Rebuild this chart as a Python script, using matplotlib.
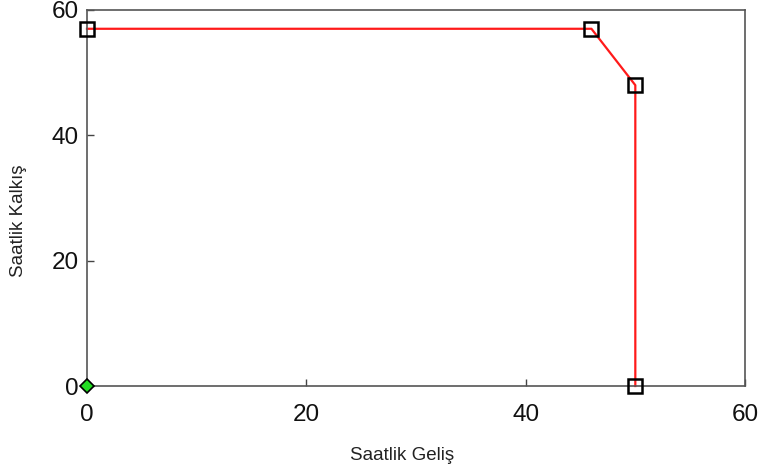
import matplotlib.pyplot as plt

# hourly arrivals vs departures
gelis = [0, 46, 50, 50]
kalkis = [57, 57, 48, 0]
origin_x = [0]
origin_y = [0]
ticks = [0, 20, 40, 60]

plt.rcParams['font.family'] = ['Liberation Sans', 'DejaVu Sans']

fig = plt.figure(figsize=(7.67, 4.73), dpi=100)
ax = fig.add_axes([0.1134, 0.1839, 0.8579, 0.7950])

ax.plot(gelis, kalkis, color='#ff1a1a', linewidth=1.6, zorder=2, clip_on=False)
ax.plot(gelis, kalkis, linestyle='none', marker='s', markersize=10,
        markerfacecolor='none', markeredgecolor='black', markeredgewidth=1.8,
        zorder=3, clip_on=False)
ax.plot(origin_x, origin_y, linestyle='none', marker='D', markersize=7,
        markerfacecolor='#22dd22', markeredgecolor='black', markeredgewidth=1.2,
        zorder=4, clip_on=False)

ax.set_xlim(0, 60)
ax.set_ylim(0, 60)
ax.set_xticks(ticks)
ax.set_yticks(ticks)
ax.tick_params(direction='in', length=5, width=1, colors='#444444',
               labelcolor='#111111', labelsize=17.5)
ax.tick_params(axis='x', pad=13)
ax.tick_params(axis='y', pad=6)
for s in ax.spines.values():
    s.set_color('#555555')
    s.set_linewidth(1.2)

ax.set_xlabel('Saatlik Geliş', fontsize=13.5, color='#222222')
ax.set_ylabel('Saatlik Kalkış', fontsize=13.5, color='#222222')
ax.xaxis.set_label_coords(0.479, -0.162)
ax.yaxis.set_label_coords(-0.091, 0.439)

fig.savefig('out.png', dpi=100)
